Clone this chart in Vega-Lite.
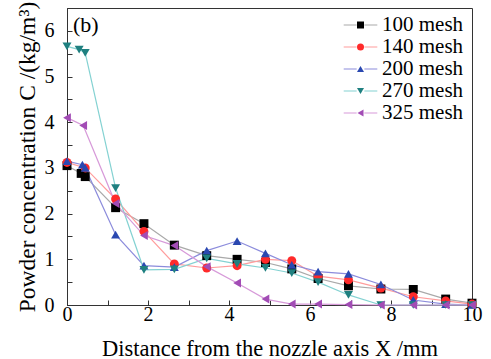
{
  "$schema": "https://vega.github.io/schema/vega-lite/v6.json",
  "autosize": "none",
  "width": 405,
  "height": 297,
  "padding": {"left": 67, "top": 8, "right": 19, "bottom": 54},
  "background": "#ffffff",
  "title": {
    "text": "(b)",
    "anchor": "start",
    "frame": "group",
    "orient": "top",
    "offset": -49,
    "dx": 6,
    "baseline": "middle",
    "font": "Liberation Serif",
    "fontSize": 22,
    "fontWeight": "normal",
    "color": "#000000"
  },
  "config": {
    "font": "Liberation Serif",
    "view": {"stroke": "#333333", "strokeWidth": 1},
    "style": {"guide-label": {"font": "Liberation Serif"}},
    "legend": {"labelFont": "Liberation Serif", "labelFontSize": 21, "labelColor": "#000000"},
    "axis": {
      "labelFont": "Liberation Serif",
      "titleFont": "Liberation Serif",
      "labelFontSize": 20,
      "titleFontWeight": "normal",
      "labelColor": "#000000",
      "titleColor": "#000000",
      "domainColor": "#333333",
      "tickColor": "#333333",
      "grid": false,
      "tickSize": -5
    }
  },
  "data": {
    "values": [
      {"x": 0, "c": 3.05, "mesh": "100 mesh"},
      {"x": 0.35, "c": 2.88, "mesh": "100 mesh"},
      {"x": 0.45, "c": 2.81, "mesh": "100 mesh"},
      {"x": 1.2, "c": 2.13, "mesh": "100 mesh"},
      {"x": 1.9, "c": 1.78, "mesh": "100 mesh"},
      {"x": 2.65, "c": 1.31, "mesh": "100 mesh"},
      {"x": 3.45, "c": 1.08, "mesh": "100 mesh"},
      {"x": 4.2, "c": 1.0, "mesh": "100 mesh"},
      {"x": 4.9, "c": 0.93, "mesh": "100 mesh"},
      {"x": 5.55, "c": 0.79, "mesh": "100 mesh"},
      {"x": 6.2, "c": 0.58, "mesh": "100 mesh"},
      {"x": 6.95, "c": 0.42, "mesh": "100 mesh"},
      {"x": 7.75, "c": 0.35, "mesh": "100 mesh"},
      {"x": 8.55, "c": 0.34, "mesh": "100 mesh"},
      {"x": 9.35, "c": 0.13, "mesh": "100 mesh"},
      {"x": 10, "c": 0.04, "mesh": "100 mesh"},

      {"x": 0, "c": 3.12, "mesh": "140 mesh"},
      {"x": 0.45, "c": 3.0, "mesh": "140 mesh"},
      {"x": 1.2, "c": 2.32, "mesh": "140 mesh"},
      {"x": 1.9, "c": 1.61, "mesh": "140 mesh"},
      {"x": 2.65, "c": 0.9, "mesh": "140 mesh"},
      {"x": 3.45, "c": 0.81, "mesh": "140 mesh"},
      {"x": 4.2, "c": 0.86, "mesh": "140 mesh"},
      {"x": 4.9, "c": 1.0, "mesh": "140 mesh"},
      {"x": 5.55, "c": 0.97, "mesh": "140 mesh"},
      {"x": 6.2, "c": 0.63, "mesh": "140 mesh"},
      {"x": 6.95, "c": 0.55, "mesh": "140 mesh"},
      {"x": 7.75, "c": 0.37, "mesh": "140 mesh"},
      {"x": 8.55, "c": 0.18, "mesh": "140 mesh"},
      {"x": 9.35, "c": 0.09, "mesh": "140 mesh"},
      {"x": 10, "c": 0.02, "mesh": "140 mesh"},

      {"x": 0, "c": 3.15, "mesh": "200 mesh"},
      {"x": 0.38, "c": 3.07, "mesh": "200 mesh"},
      {"x": 0.45, "c": 3.0, "mesh": "200 mesh"},
      {"x": 1.2, "c": 1.54, "mesh": "200 mesh"},
      {"x": 1.9, "c": 0.86, "mesh": "200 mesh"},
      {"x": 2.65, "c": 0.83, "mesh": "200 mesh"},
      {"x": 3.45, "c": 1.19, "mesh": "200 mesh"},
      {"x": 4.2, "c": 1.4, "mesh": "200 mesh"},
      {"x": 4.9, "c": 1.13, "mesh": "200 mesh"},
      {"x": 5.55, "c": 0.88, "mesh": "200 mesh"},
      {"x": 6.2, "c": 0.73, "mesh": "200 mesh"},
      {"x": 6.95, "c": 0.68, "mesh": "200 mesh"},
      {"x": 7.75, "c": 0.45, "mesh": "200 mesh"},
      {"x": 8.55, "c": 0.11, "mesh": "200 mesh"},
      {"x": 9.35, "c": 0.02, "mesh": "200 mesh"},
      {"x": 10, "c": 0.0, "mesh": "200 mesh"},

      {"x": 0, "c": 5.66, "mesh": "270 mesh"},
      {"x": 0.3, "c": 5.59, "mesh": "270 mesh"},
      {"x": 0.45, "c": 5.52, "mesh": "270 mesh"},
      {"x": 1.2, "c": 2.56, "mesh": "270 mesh"},
      {"x": 1.9, "c": 0.77, "mesh": "270 mesh"},
      {"x": 2.65, "c": 0.78, "mesh": "270 mesh"},
      {"x": 3.45, "c": 1.02, "mesh": "270 mesh"},
      {"x": 4.2, "c": 0.9, "mesh": "270 mesh"},
      {"x": 4.9, "c": 0.81, "mesh": "270 mesh"},
      {"x": 5.55, "c": 0.7, "mesh": "270 mesh"},
      {"x": 6.2, "c": 0.5, "mesh": "270 mesh"},
      {"x": 6.95, "c": 0.22, "mesh": "270 mesh"},
      {"x": 7.75, "c": 0.0, "mesh": "270 mesh"},
      {"x": 8.55, "c": 0.0, "mesh": "270 mesh"},
      {"x": 9.35, "c": 0.0, "mesh": "270 mesh"},
      {"x": 10, "c": 0.0, "mesh": "270 mesh"},

      {"x": 0, "c": 4.1, "mesh": "325 mesh"},
      {"x": 0.4, "c": 3.93, "mesh": "325 mesh"},
      {"x": 1.2, "c": 2.22, "mesh": "325 mesh"},
      {"x": 1.9, "c": 1.52, "mesh": "325 mesh"},
      {"x": 2.65, "c": 1.3, "mesh": "325 mesh"},
      {"x": 3.45, "c": 0.84, "mesh": "325 mesh"},
      {"x": 4.2, "c": 0.48, "mesh": "325 mesh"},
      {"x": 4.9, "c": 0.13, "mesh": "325 mesh"},
      {"x": 5.55, "c": 0.02, "mesh": "325 mesh"},
      {"x": 6.2, "c": 0.02, "mesh": "325 mesh"},
      {"x": 6.95, "c": 0.01, "mesh": "325 mesh"},
      {"x": 7.75, "c": 0.0, "mesh": "325 mesh"},
      {"x": 8.55, "c": 0.0, "mesh": "325 mesh"},
      {"x": 9.35, "c": 0.0, "mesh": "325 mesh"},
      {"x": 10, "c": 0.0, "mesh": "325 mesh"}
    ]
  },
  "encoding": {
    "x": {
      "field": "x",
      "type": "quantitative",
      "scale": {"domain": [0, 10], "nice": false},
      "axis": {
        "title": "Distance from the nozzle axis X /mm",
        "titleFontSize": 22.5,
        "values": [0, 1, 2, 3, 4, 5, 6, 7, 8, 9, 10],
        "labelExpr": "datum.value % 2 === 0 ? format(datum.value, 'd') : ''",
        "labelPadding": 4,
        "titlePadding": 13,
        "labelFlush": false,
        "labelOverlap": false
      }
    },
    "y": {
      "field": "c",
      "type": "quantitative",
      "scale": {"domain": [0, 6.5], "nice": false},
      "axis": {
        "title": "Powder concentration C /(kg/m³)",
        "titleFontSize": 23.5,
        "values": [0, 0.5, 1, 1.5, 2, 2.5, 3, 3.5, 4, 4.5, 5, 5.5, 6, 6.5],
        "labelExpr": "datum.value % 1 === 0 ? format(datum.value, 'd') : ''",
        "labelPadding": 18,
        "titlePadding": 5,
        "labelOverlap": false
      }
    }
  },
  "layer": [
    {
      "mark": {"type": "line", "strokeWidth": 1.2, "clip": false},
      "encoding": {
        "stroke": {
          "field": "mesh",
          "type": "nominal",
          "scale": {
            "domain": ["100 mesh", "140 mesh", "200 mesh", "270 mesh", "325 mesh"],
            "range": ["#a9a9a9", "#ff9c9c", "#8c8cdc", "#84d2d2", "#d79ad9"]
          },
          "legend": {
            "title": null,
            "orient": "none",
            "legendX": 283,
            "legendY": 6.5,
            "padding": 0,
            "symbolType": "M-4.8,0H-1.1M1.1,0H4.8",
            "symbolSize": 49,
            "symbolStrokeWidth": 1.2,
            "symbolFillColor": "transparent",
            "labelFont": "Liberation Serif",
            "labelFontSize": 21,
            "labelColor": "transparent",
            "labelExpr": "''",
            "labelOffset": 11,
            "rowPadding": 0,
            "labelLimit": 200
          }
        }
      }
    },
    {
      "mark": {"type": "point", "filled": true, "opacity": 1, "clip": false},
      "encoding": {
        "fill": {
          "field": "mesh",
          "type": "nominal",
          "scale": {
            "range": ["#000000", "#ff2a2a", "#2a48b0", "#1f8080", "#a24cb5"]
          },
          "legend": {
            "title": null,
            "orient": "none",
            "legendX": 283,
            "legendY": 6.5,
            "padding": 0,
            "symbolSize": 49,
            "symbolStrokeWidth": 0,
            "labelFont": "Liberation Serif",
            "labelFontSize": 21,
            "labelColor": "#000000",
            "labelOffset": 11,
            "rowPadding": 0,
            "labelLimit": 200
          }
        },
        "shape": {
          "field": "mesh",
          "type": "nominal",
          "scale": {
            "range": ["square", "circle", "triangle-up", "triangle-down", "triangle-left"]
          },
          "legend": {
            "title": null,
            "orient": "none",
            "legendX": 283,
            "legendY": 6.5,
            "padding": 0,
            "symbolSize": 49,
            "symbolStrokeWidth": 0,
            "labelFont": "Liberation Serif",
            "labelFontSize": 21,
            "labelColor": "#000000",
            "labelOffset": 11,
            "rowPadding": 0,
            "labelLimit": 200
          }
        },
        "size": {
          "field": "mesh",
          "type": "nominal",
          "scale": {
            "domain": ["325 mesh", "270 mesh", "200 mesh", "140 mesh", "100 mesh"],
            "range": [80, 80, 80, 55, 50]
          },
          "legend": null
        }
      }
    }
  ]
}
